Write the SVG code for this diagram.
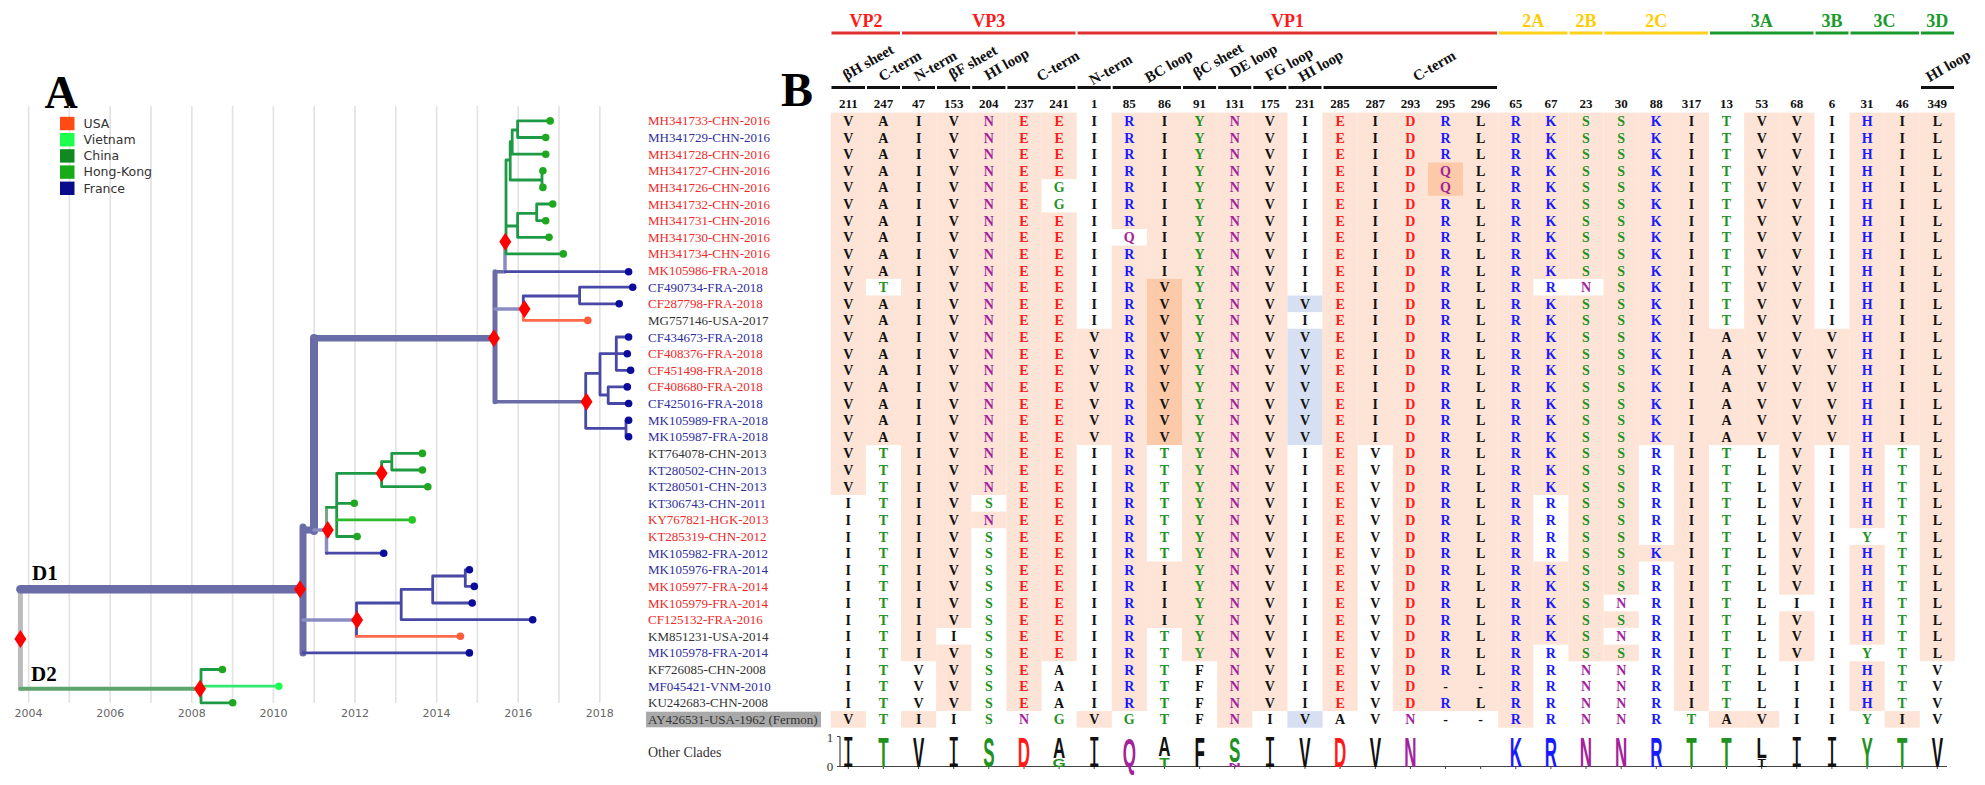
<svg xmlns="http://www.w3.org/2000/svg" width="1985" height="785" viewBox="0 0 1985 785">
<style>
.k{fill:#111}.g{fill:#1f921f}.r{fill:#ff1a1a}.b{fill:#1a1aff}.p{fill:#a3229b}
.res{font-family:'Liberation Serif',serif;font-weight:bold;font-size:14px;text-anchor:middle}
.lab{font-family:'Liberation Serif',serif;font-size:13px}
.lr{fill:#f02828}.lb{fill:#2e2e9e}.lk{fill:#333}
.s{fill:#fde4d6}.o{fill:#fccaa8}.bl{fill:#d6e0f2}
.num{font-family:'Liberation Serif',serif;font-weight:bold;font-size:13px;text-anchor:middle;fill:#111}
.sub{font-family:'Liberation Serif',serif;font-weight:bold;font-size:15px;text-anchor:middle;fill:#111}
.prot{font-family:'Liberation Serif',serif;font-weight:bold;font-size:18px;text-anchor:middle}
.lg{font-family:'Liberation Sans',Arial,sans-serif;font-weight:bold;font-size:20px;text-anchor:middle}
.lm{font-family:'DejaVu Sans Mono',monospace;font-size:20px;text-anchor:middle;fill:#111}
.yr{font-family:'DejaVu Sans',sans-serif;font-size:11px;fill:#666;text-anchor:middle}
.leg{font-family:'DejaVu Sans',sans-serif;font-size:12.5px;fill:#333}
.big{font-family:'Liberation Serif',serif;font-weight:bold;fill:#000}
.br{fill:none;stroke-linecap:round;stroke-linejoin:round}
.dF{fill:#0c0c9c}.dG{fill:#1fa81f}.dH{fill:#27c927}.dV{fill:#1dff50}.dU{fill:#ff5a3c}
</style>
<defs>
<path id="dia" d="M0 -9L6 0L0 9L-6 0Z" fill="#ff0000"/>
</defs>
<rect width="1985" height="785" fill="#fff"/>

<g id="panelA">
<text class="big" x="61" y="108" font-size="46" text-anchor="middle">A</text>
<g id="grid">
<path d="M28.6 106V703M69.4 106V703M110.2 106V703M151 106V703M191.8 106V703M232.6 106V703M273.4 106V703M314.2 106V703M355 106V703M395.8 106V703M436.6 106V703M477.4 106V703M518.2 106V703M559 106V703M599.8 106V703" stroke="#e2e2e2" stroke-width="1.6" fill="none"/>
<text class="yr" x="28.6" y="717">2004</text><text class="yr" x="110.2" y="717">2006</text><text class="yr" x="191.8" y="717">2008</text><text class="yr" x="273.4" y="717">2010</text><text class="yr" x="355" y="717">2012</text><text class="yr" x="436.6" y="717">2014</text><text class="yr" x="518.2" y="717">2016</text><text class="yr" x="599.8" y="717">2018</text>
</g>
<g id="legend">
<rect x="60" y="116.8" width="14.5" height="13.4" fill="#ff4a14"/><text class="leg" x="83.5" y="127.8">USA</text>
<rect x="60" y="133" width="14.5" height="13.4" fill="#1dff4c"/><text class="leg" x="83.5" y="144">Vietnam</text>
<rect x="60" y="149.2" width="14.5" height="13.4" fill="#0f8a1f"/><text class="leg" x="83.5" y="160.2">China</text>
<rect x="60" y="165.4" width="14.5" height="13.4" fill="#17ab17"/><text class="leg" x="83.5" y="176.4">Hong-Kong</text>
<rect x="60" y="181.6" width="14.5" height="13.4" fill="#0a0a8c"/><text class="leg" x="83.5" y="192.6">France</text>
</g>
<g id="connectors">
<path class="br" d="M20.4 589.3V688.7" stroke="#bcbcbc" stroke-width="5"/>
<path class="br" d="M20.4 688.7H200" stroke="#5fa46f" stroke-width="4"/>
<path class="br" d="M20.4 589.3H300" stroke="#6a6ca8" stroke-width="8.5"/>
<path class="br" d="M303 527V653M303 530H314" stroke="#6a6ca8" stroke-width="7"/>
<path class="br" d="M314 338V531" stroke="#6a6ca8" stroke-width="8"/>
<path class="br" d="M314 338.3H494" stroke="#6a6ca8" stroke-width="6.5"/>
<path class="br" d="M495 271.7V401.7" stroke="#6a6ca8" stroke-width="5"/>
<path class="br" d="M495 271.7H505M495 401.7H586" stroke="#6a6ca8" stroke-width="3.5"/>
<path class="br" d="M495 309H524M505 241.7V271.7M314 530H327M326.5 530V553.2M303 620H357" stroke="#8b8dc2" stroke-width="3.5"/>
<path class="br" d="M326.5 507.3V530" stroke="#76a886" stroke-width="3"/>
<path class="br" d="M506 160V253.9M506 160H510.2M510.2 141.7V180M510.2 141.7H512.2M512.2 130V154.2M512.2 130H517.6M517.6 120.9V137.5M517.6 120.9H550.2M517.6 137.5H545.7M512.2 154.2H545.7M510.2 180H542M542 170.8V187.4M506 226H517.6M517.6 213.3V237.3M517.6 213.3H536.7M536.7 204V220.7M536.7 204H552.7M536.7 220.7H545.7M517.6 237.3H549M506 253.9H563.3M326.5 507.3H336.7M336.7 473.3V536.5M336.7 473.3H381.6M381.6 461.7V486.7M381.6 461.7H391.8M391.8 453.4V470M391.8 453.4H422.4M391.8 470H422.4M381.6 486.7H427.8M336.7 503.3H354.3M336.7 536.5H357.1M201 669.5V702.8M201 669.5H222.4M201 702.8H232.7" stroke="#1e9a46" stroke-width="2.8"/>
<path class="br" d="M336.7 519.9H412.2" stroke="#2dbb2d" stroke-width="2.8"/>
<path class="br" d="M204 686.2H278.8" stroke="#33e870" stroke-width="2.8"/>
<path class="br" d="M505 271.7H628.6M523.3 296V309M523.3 296H579.6M579.6 287.2V303.8M579.6 287.2H632.7M579.6 303.8H619.2M585.7 373.3V428.3M585.7 373.3H600M600 353.7V395M600 353.7H616.3M616.3 337V370.3M616.3 337H628.6M616.3 353.7H627.3M616.3 370.3H630.6M600 395H608.2M608.2 386.9V403.5M608.2 386.9H627.3M608.2 403.5H628.6M585.7 428.3H626M626 420.2V436.8M626 420.2H628.6M626 436.8H628.6M326.5 553.2H383.7M356.5 603V636.3M356.5 603H401.2M401.2 589.3V619.7M401.2 589.3H432.7M432.7 576V603M432.7 576H465.3M465.3 569.8V586.4M465.3 569.8H469.4M465.3 586.4H474.3M432.7 603H472.2M401.2 619.7H532.7M303 652.9H469.4" stroke="#4848a6" stroke-width="2.8"/>
<path class="br" d="M523.3 309V320.4M523.3 320.4H587.8M356.5 636.3H460.4" stroke="#ff6a4a" stroke-width="2.8"/>
</g>
<g id="tips">
<g class="dF"><circle cx="628.6" cy="271.7" r="3.8"/><circle cx="632.7" cy="287.2" r="3.8"/><circle cx="619.2" cy="303.8" r="3.8"/><circle cx="628.6" cy="337" r="3.8"/><circle cx="627.3" cy="353.7" r="3.8"/><circle cx="630.6" cy="370.3" r="3.8"/><circle cx="627.3" cy="386.9" r="3.8"/><circle cx="628.6" cy="403.5" r="3.8"/><circle cx="628.6" cy="420.2" r="3.8"/><circle cx="628.6" cy="436.8" r="3.8"/><circle cx="383.7" cy="553.2" r="3.8"/><circle cx="469.4" cy="569.8" r="3.8"/><circle cx="474.3" cy="586.4" r="3.8"/><circle cx="472.2" cy="603" r="3.8"/><circle cx="532.7" cy="619.7" r="3.8"/><circle cx="469.4" cy="652.9" r="3.8"/></g>
<g class="dG"><circle cx="550.2" cy="120.9" r="3.8"/><circle cx="545.7" cy="137.5" r="3.8"/><circle cx="545.7" cy="154.2" r="3.8"/><circle cx="542.9" cy="170.8" r="3.8"/><circle cx="542.9" cy="187.4" r="3.8"/><circle cx="552.7" cy="204" r="3.8"/><circle cx="545.7" cy="220.7" r="3.8"/><circle cx="549" cy="237.3" r="3.8"/><circle cx="563.3" cy="253.9" r="3.8"/><circle cx="422.4" cy="453.4" r="3.8"/><circle cx="422.4" cy="470" r="3.8"/><circle cx="427.8" cy="486.7" r="3.8"/><circle cx="354.3" cy="503.3" r="3.8"/><circle cx="357.1" cy="536.5" r="3.8"/><circle cx="222.4" cy="669.5" r="3.8"/><circle cx="232.7" cy="702.8" r="3.8"/></g>
<circle class="dH" cx="412.2" cy="519.9" r="3.8"/>
<circle class="dV" cx="278.8" cy="686.2" r="3.8"/>
<circle class="dU" cx="587.8" cy="320.4" r="3.8"/><circle class="dU" cx="460.4" cy="636.3" r="3.8"/>
</g>
<g id="nodes">
<use href="#dia" x="505.3" y="241.7"/><use href="#dia" x="524.5" y="309"/><use href="#dia" x="493.9" y="338.3"/><use href="#dia" x="586.5" y="401.7"/><use href="#dia" x="381.6" y="473.3"/><use href="#dia" x="327.8" y="530"/><use href="#dia" x="300" y="589.3"/><use href="#dia" x="357.1" y="620"/><use href="#dia" x="20.4" y="639"/><use href="#dia" x="200" y="688.7"/>
</g>
<text class="big" x="32" y="580" font-size="21">D1</text>
<text class="big" x="31" y="681" font-size="21">D2</text>
</g>

<g id="panelB">
<text class="big" x="797" y="106" font-size="48" text-anchor="middle">B</text>
<g id="header">
<text class="prot r" x="865.9" y="26.5">VP2</text>
<text class="prot r" x="988.8" y="26.5">VP3</text>
<text class="prot r" x="1287.4" y="26.5">VP1</text>
<text class="prot" fill="#ffcc00" x="1533.3" y="26.5">2A</text>
<text class="prot" fill="#ffcc00" x="1586" y="26.5">2B</text>
<text class="prot" fill="#ffcc00" x="1656.3" y="26.5">2C</text>
<text class="prot" fill="#1a9a2a" x="1761.7" y="26.5">3A</text>
<text class="prot" fill="#1a9a2a" x="1831.9" y="26.5">3B</text>
<text class="prot" fill="#1a9a2a" x="1884.6" y="26.5">3C</text>
<text class="prot" fill="#1a9a2a" x="1937.3" y="26.5">3D</text>
<path d="M831.5 33H900M902 33H1075.5M1077.5 33H1497" stroke="#e03030" stroke-width="3" fill="none"/>
<path d="M1499 33H1567.5M1569.5 33H1602.5M1604.5 33H1708" stroke="#ffd21a" stroke-width="3" fill="none"/>
<path d="M1710 33H1813.5M1815.5 33H1848.5M1850.5 33H1919M1921 33H1954" stroke="#1a9a2a" stroke-width="3" fill="none"/>
<path d="M831.5 87.5H865M867 87.5H900M902 87.5H935M937 87.5H970.2M972.2 87.5H1005.4M1007.4 87.5H1075.5M1077.5 87.5H1110.7M1112.7 87.5H1181M1183 87.5H1216.1M1218.1 87.5H1251.3M1253.3 87.5H1286.4M1288.4 87.5H1321.5M1323.5 87.5H1497M1921 87.5H1954" stroke="#111" stroke-width="3" fill="none"/>
<g class="sub">
<text transform="translate(868.1 61.9) rotate(-30)" dy="0.35em">βH sheet</text>
<text transform="translate(899.7 65.5) rotate(-30)" dy="0.35em">C-term</text>
<text transform="translate(935.3 65.5) rotate(-30)" dy="0.35em">N-term</text>
<text transform="translate(972.8 61.9) rotate(-30)" dy="0.35em">βF sheet</text>
<text transform="translate(1006.4 63.7) rotate(-30)" dy="0.35em">HI loop</text>
<text transform="translate(1057.8 65.5) rotate(-30)" dy="0.35em">C-term</text>
<text transform="translate(1110.4 69.2) rotate(-30)" dy="0.35em">N-term</text>
<text transform="translate(1168.5 65.5) rotate(-30)" dy="0.35em">BC loop</text>
<text transform="translate(1217.9 60.1) rotate(-30)" dy="0.35em">βC sheet</text>
<text transform="translate(1253.4 60.1) rotate(-30)" dy="0.35em">DE loop</text>
<text transform="translate(1289 63.7) rotate(-30)" dy="0.35em">FG loop</text>
<text transform="translate(1320.6 65.5) rotate(-30)" dy="0.35em">HI loop</text>
<text transform="translate(1434 65.5) rotate(-30)" dy="0.35em">C-term</text>
<text transform="translate(1948 65.5) rotate(-30)" dy="0.35em">HI loop</text>
</g>
<text class="num" y="107.5"><tspan x="848.3">211</tspan><tspan x="883.4">247</tspan><tspan x="918.6">47</tspan><tspan x="953.7">153</tspan><tspan x="988.8">204</tspan><tspan x="1024">237</tspan><tspan x="1059.1">241</tspan><tspan x="1094.2">1</tspan><tspan x="1129.3">85</tspan><tspan x="1164.5">86</tspan><tspan x="1199.6">91</tspan><tspan x="1234.7">131</tspan><tspan x="1269.9">175</tspan><tspan x="1305">231</tspan><tspan x="1340.1">285</tspan><tspan x="1375.3">287</tspan><tspan x="1410.4">293</tspan><tspan x="1445.5">295</tspan><tspan x="1480.6">296</tspan><tspan x="1515.8">65</tspan><tspan x="1550.9">67</tspan><tspan x="1586">23</tspan><tspan x="1621.2">30</tspan><tspan x="1656.3">88</tspan><tspan x="1691.4">317</tspan><tspan x="1726.5">13</tspan><tspan x="1761.7">53</tspan><tspan x="1796.8">68</tspan><tspan x="1831.9">6</tspan><tspan x="1867.1">31</tspan><tspan x="1902.2">46</tspan><tspan x="1937.3">349</tspan></text>
</g>

<g id="cells">
<rect class="s" x="830.7" y="112.6" width="35.2" height="382.4"/><rect class="s" x="830.7" y="711.1" width="35.2" height="16.6"/>
<rect class="s" x="865.8" y="112.6" width="35.2" height="166.3"/><rect class="s" x="865.8" y="295.5" width="35.2" height="149.6"/>
<rect class="s" x="901" y="112.6" width="35.2" height="548.6"/><rect class="s" x="901" y="711.1" width="35.2" height="16.6"/>
<rect class="s" x="936.1" y="112.6" width="35.2" height="515.4"/><rect class="s" x="936.1" y="644.6" width="35.2" height="66.5"/>
<rect class="s" x="971.2" y="112.6" width="35.2" height="382.4"/><rect class="s" x="971.2" y="511.6" width="35.2" height="16.6"/>
<rect class="s" x="1006.4" y="112.6" width="35.2" height="598.5"/>
<rect class="s" x="1041.5" y="112.6" width="35.2" height="66.5"/><rect class="s" x="1041.5" y="212.3" width="35.2" height="448.9"/>
<rect class="s" x="1076.6" y="328.7" width="35.2" height="116.4"/><rect class="s" x="1076.6" y="711.1" width="35.2" height="16.6"/>
<rect class="s" x="1111.7" y="112.6" width="35.2" height="116.4"/><rect class="s" x="1111.7" y="245.6" width="35.2" height="465.5"/>
<rect class="s" x="1146.9" y="112.6" width="35.2" height="166.3"/><rect class="o" x="1146.9" y="278.8" width="35.2" height="166.3"/><rect class="s" x="1146.9" y="561.5" width="35.2" height="66.5"/>
<rect class="s" x="1182" y="112.6" width="35.2" height="548.6"/>
<rect class="s" x="1217.1" y="112.6" width="35.2" height="615.1"/>
<rect class="s" x="1252.3" y="112.6" width="35.2" height="598.5"/>
<rect class="bl" x="1287.4" y="295.5" width="35.2" height="16.6"/><rect class="bl" x="1287.4" y="328.7" width="35.2" height="116.4"/><rect class="bl" x="1287.4" y="711.1" width="35.2" height="16.6"/>
<rect class="s" x="1322.5" y="112.6" width="35.2" height="598.5"/>
<rect class="s" x="1357.7" y="112.6" width="35.2" height="332.5"/>
<rect class="s" x="1392.8" y="112.6" width="35.2" height="598.5"/>
<rect class="s" x="1427.9" y="112.6" width="35.2" height="598.5"/><rect class="o" x="1427.9" y="162.5" width="35.2" height="33.3"/>
<rect class="s" x="1463" y="112.6" width="35.2" height="598.5"/>
<rect class="s" x="1498.2" y="112.6" width="35.2" height="615.1"/>
<rect class="s" x="1533.3" y="112.6" width="35.2" height="166.3"/><rect class="s" x="1533.3" y="295.5" width="35.2" height="199.5"/><rect class="s" x="1533.3" y="561.5" width="35.2" height="83.1"/>
<rect class="s" x="1568.4" y="112.6" width="35.2" height="166.3"/><rect class="s" x="1568.4" y="295.5" width="35.2" height="365.8"/>
<rect class="s" x="1603.6" y="112.6" width="35.2" height="482.1"/><rect class="s" x="1603.6" y="611.3" width="35.2" height="16.6"/><rect class="s" x="1603.6" y="644.6" width="35.2" height="16.6"/>
<rect class="s" x="1638.7" y="112.6" width="35.2" height="332.5"/><rect class="s" x="1638.7" y="544.9" width="35.2" height="16.6"/>
<rect class="s" x="1673.8" y="112.6" width="35.2" height="598.5"/>
<rect class="s" x="1709" y="328.7" width="35.2" height="116.4"/><rect class="s" x="1709" y="711.1" width="35.2" height="16.6"/>
<rect class="s" x="1744.1" y="112.6" width="35.2" height="332.5"/><rect class="s" x="1744.1" y="711.1" width="35.2" height="16.6"/>
<rect class="s" x="1779.2" y="112.6" width="35.2" height="482.1"/><rect class="s" x="1779.2" y="611.3" width="35.2" height="49.9"/>
<rect class="s" x="1814.3" y="328.7" width="35.2" height="116.4"/>
<rect class="s" x="1849.5" y="112.6" width="35.2" height="415.6"/><rect class="s" x="1849.5" y="544.9" width="35.2" height="99.8"/><rect class="s" x="1849.5" y="661.2" width="35.2" height="49.9"/>
<rect class="s" x="1884.6" y="112.6" width="35.2" height="332.5"/><rect class="s" x="1884.6" y="711.1" width="35.2" height="16.6"/>
<rect class="s" x="1919.7" y="112.6" width="35.2" height="548.6"/>
</g>

<g id="rowlabels" class="lab">
<text class="lr" x="648" y="125.4">MH341733-CHN-2016</text>
<text class="lb" x="648" y="142">MH341729-CHN-2016</text>
<text class="lr" x="648" y="158.7">MH341728-CHN-2016</text>
<text class="lr" x="648" y="175.3">MH341727-CHN-2016</text>
<text class="lr" x="648" y="191.9">MH341726-CHN-2016</text>
<text class="lr" x="648" y="208.5">MH341732-CHN-2016</text>
<text class="lr" x="648" y="225.2">MH341731-CHN-2016</text>
<text class="lr" x="648" y="241.8">MH341730-CHN-2016</text>
<text class="lr" x="648" y="258.4">MH341734-CHN-2016</text>
<text class="lr" x="648" y="275">MK105986-FRA-2018</text>
<text class="lb" x="648" y="291.7">CF490734-FRA-2018</text>
<text class="lr" x="648" y="308.3">CF287798-FRA-2018</text>
<text class="lk" x="648" y="324.9">MG757146-USA-2017</text>
<text class="lb" x="648" y="341.5">CF434673-FRA-2018</text>
<text class="lr" x="648" y="358.2">CF408376-FRA-2018</text>
<text class="lr" x="648" y="374.8">CF451498-FRA-2018</text>
<text class="lr" x="648" y="391.4">CF408680-FRA-2018</text>
<text class="lb" x="648" y="408">CF425016-FRA-2018</text>
<text class="lb" x="648" y="424.7">MK105989-FRA-2018</text>
<text class="lb" x="648" y="441.3">MK105987-FRA-2018</text>
<text class="lk" x="648" y="457.9">KT764078-CHN-2013</text>
<text class="lb" x="648" y="474.5">KT280502-CHN-2013</text>
<text class="lb" x="648" y="491.2">KT280501-CHN-2013</text>
<text class="lb" x="648" y="507.8">KT306743-CHN-2011</text>
<text class="lr" x="648" y="524.4">KY767821-HGK-2013</text>
<text class="lr" x="648" y="541">KT285319-CHN-2012</text>
<text class="lb" x="648" y="557.7">MK105982-FRA-2012</text>
<text class="lb" x="648" y="574.3">MK105976-FRA-2014</text>
<text class="lr" x="648" y="590.9">MK105977-FRA-2014</text>
<text class="lr" x="648" y="607.5">MK105979-FRA-2014</text>
<text class="lr" x="648" y="624.2">CF125132-FRA-2016</text>
<text class="lk" x="648" y="640.8">KM851231-USA-2014</text>
<text class="lb" x="648" y="657.4">MK105978-FRA-2014</text>
<text class="lk" x="648" y="674">KF726085-CHN-2008</text>
<text class="lb" x="648" y="690.7">MF045421-VNM-2010</text>
<text class="lk" x="648" y="707.3">KU242683-CHN-2008</text>
<rect x="646" y="711.7" width="175" height="15.6" fill="#a9a9a9"/>
<text class="lk" x="648" y="723.9">AY426531-USA-1962 (Fermon)</text>
<text class="lk" x="648" y="757" font-size="14">Other Clades</text>
</g>

<g id="residues" class="res">
<text transform="translate(848.3 0)" x="0 0 0 0 0 0 0 0 0 0 0 0 0 0 0 0 0 0 0 0 0 0 0 0 0 0 0 0 0 0 0 0 0 0 0 0 0" y="125.9 142.5 159.2 175.8 192.4 209 225.7 242.3 258.9 275.5 292.2 308.8 325.4 342 358.7 375.3 391.9 408.5 425.2 441.8 458.4 475 491.7 508.3 524.9 541.5 558.2 574.8 591.4 608 624.7 641.3 657.9 674.5 691.2 707.8 724.4"><tspan class="k">VVVVVVVVVVVVVVVVVVVVVVVIIIIIIIIIIIIIV</tspan></text>
<text transform="translate(883.4 0)" x="0 0 0 0 0 0 0 0 0 0 0 0 0 0 0 0 0 0 0 0 0 0 0 0 0 0 0 0 0 0 0 0 0 0 0 0 0" y="125.9 142.5 159.2 175.8 192.4 209 225.7 242.3 258.9 275.5 292.2 308.8 325.4 342 358.7 375.3 391.9 408.5 425.2 441.8 458.4 475 491.7 508.3 524.9 541.5 558.2 574.8 591.4 608 624.7 641.3 657.9 674.5 691.2 707.8 724.4"><tspan class="k">AAAAAAAAAA</tspan><tspan class="g">T</tspan><tspan class="k">AAAAAAAAA</tspan><tspan class="g">TTTTTTTTTTTTTTTTT</tspan></text>
<text transform="translate(918.6 0)" x="0 0 0 0 0 0 0 0 0 0 0 0 0 0 0 0 0 0 0 0 0 0 0 0 0 0 0 0 0 0 0 0 0 0 0 0 0" y="125.9 142.5 159.2 175.8 192.4 209 225.7 242.3 258.9 275.5 292.2 308.8 325.4 342 358.7 375.3 391.9 408.5 425.2 441.8 458.4 475 491.7 508.3 524.9 541.5 558.2 574.8 591.4 608 624.7 641.3 657.9 674.5 691.2 707.8 724.4"><tspan class="k">IIIIIIIIIIIIIIIIIIIIIIIIIIIIIIIIIVVVI</tspan></text>
<text transform="translate(953.7 0)" x="0 0 0 0 0 0 0 0 0 0 0 0 0 0 0 0 0 0 0 0 0 0 0 0 0 0 0 0 0 0 0 0 0 0 0 0 0" y="125.9 142.5 159.2 175.8 192.4 209 225.7 242.3 258.9 275.5 292.2 308.8 325.4 342 358.7 375.3 391.9 408.5 425.2 441.8 458.4 475 491.7 508.3 524.9 541.5 558.2 574.8 591.4 608 624.7 641.3 657.9 674.5 691.2 707.8 724.4"><tspan class="k">VVVVVVVVVVVVVVVVVVVVVVVVVVVVVVVIVVVVI</tspan></text>
<text transform="translate(988.8 0)" x="0 0 0 0 0 0 0 0 0 0 0 0 0 0 0 0 0 0 0 0 0 0 0 0 0 0 0 0 0 0 0 0 0 0 0 0 0" y="125.9 142.5 159.2 175.8 192.4 209 225.7 242.3 258.9 275.5 292.2 308.8 325.4 342 358.7 375.3 391.9 408.5 425.2 441.8 458.4 475 491.7 508.3 524.9 541.5 558.2 574.8 591.4 608 624.7 641.3 657.9 674.5 691.2 707.8 724.4"><tspan class="p">NNNNNNNNNNNNNNNNNNNNNNN</tspan><tspan class="g">S</tspan><tspan class="p">N</tspan><tspan class="g">SSSSSSSSSSSS</tspan></text>
<text transform="translate(1024 0)" x="0 0 0 0 0 0 0 0 0 0 0 0 0 0 0 0 0 0 0 0 0 0 0 0 0 0 0 0 0 0 0 0 0 0 0 0 0" y="125.9 142.5 159.2 175.8 192.4 209 225.7 242.3 258.9 275.5 292.2 308.8 325.4 342 358.7 375.3 391.9 408.5 425.2 441.8 458.4 475 491.7 508.3 524.9 541.5 558.2 574.8 591.4 608 624.7 641.3 657.9 674.5 691.2 707.8 724.4"><tspan class="r">EEEEEEEEEEEEEEEEEEEEEEEEEEEEEEEEEEEE</tspan><tspan class="p">N</tspan></text>
<text transform="translate(1059.1 0)" x="0 0 0 0 0 0 0 0 0 0 0 0 0 0 0 0 0 0 0 0 0 0 0 0 0 0 0 0 0 0 0 0 0 0 0 0 0" y="125.9 142.5 159.2 175.8 192.4 209 225.7 242.3 258.9 275.5 292.2 308.8 325.4 342 358.7 375.3 391.9 408.5 425.2 441.8 458.4 475 491.7 508.3 524.9 541.5 558.2 574.8 591.4 608 624.7 641.3 657.9 674.5 691.2 707.8 724.4"><tspan class="r">EEEE</tspan><tspan class="g">GG</tspan><tspan class="r">EEEEEEEEEEEEEEEEEEEEEEEEEEE</tspan><tspan class="k">AAA</tspan><tspan class="g">G</tspan></text>
<text transform="translate(1094.2 0)" x="0 0 0 0 0 0 0 0 0 0 0 0 0 0 0 0 0 0 0 0 0 0 0 0 0 0 0 0 0 0 0 0 0 0 0 0 0" y="125.9 142.5 159.2 175.8 192.4 209 225.7 242.3 258.9 275.5 292.2 308.8 325.4 342 358.7 375.3 391.9 408.5 425.2 441.8 458.4 475 491.7 508.3 524.9 541.5 558.2 574.8 591.4 608 624.7 641.3 657.9 674.5 691.2 707.8 724.4"><tspan class="k">IIIIIIIIIIIIIVVVVVVVIIIIIIIIIIIIIIIIV</tspan></text>
<text transform="translate(1129.3 0)" x="0 0 0 0 0 0 0 0 0 0 0 0 0 0 0 0 0 0 0 0 0 0 0 0 0 0 0 0 0 0 0 0 0 0 0 0 0" y="125.9 142.5 159.2 175.8 192.4 209 225.7 242.3 258.9 275.5 292.2 308.8 325.4 342 358.7 375.3 391.9 408.5 425.2 441.8 458.4 475 491.7 508.3 524.9 541.5 558.2 574.8 591.4 608 624.7 641.3 657.9 674.5 691.2 707.8 724.4"><tspan class="b">RRRRRRR</tspan><tspan class="p">Q</tspan><tspan class="b">RRRRRRRRRRRRRRRRRRRRRRRRRRRR</tspan><tspan class="g">G</tspan></text>
<text transform="translate(1164.5 0)" x="0 0 0 0 0 0 0 0 0 0 0 0 0 0 0 0 0 0 0 0 0 0 0 0 0 0 0 0 0 0 0 0 0 0 0 0 0" y="125.9 142.5 159.2 175.8 192.4 209 225.7 242.3 258.9 275.5 292.2 308.8 325.4 342 358.7 375.3 391.9 408.5 425.2 441.8 458.4 475 491.7 508.3 524.9 541.5 558.2 574.8 591.4 608 624.7 641.3 657.9 674.5 691.2 707.8 724.4"><tspan class="k">IIIIIIIIIIVVVVVVVVVV</tspan><tspan class="g">TTTTTTT</tspan><tspan class="k">IIII</tspan><tspan class="g">TTTTTT</tspan></text>
<text transform="translate(1199.6 0)" x="0 0 0 0 0 0 0 0 0 0 0 0 0 0 0 0 0 0 0 0 0 0 0 0 0 0 0 0 0 0 0 0 0 0 0 0 0" y="125.9 142.5 159.2 175.8 192.4 209 225.7 242.3 258.9 275.5 292.2 308.8 325.4 342 358.7 375.3 391.9 408.5 425.2 441.8 458.4 475 491.7 508.3 524.9 541.5 558.2 574.8 591.4 608 624.7 641.3 657.9 674.5 691.2 707.8 724.4"><tspan class="g">YYYYYYYYYYYYYYYYYYYYYYYYYYYYYYYYY</tspan><tspan class="k">FFFF</tspan></text>
<text transform="translate(1234.7 0)" x="0 0 0 0 0 0 0 0 0 0 0 0 0 0 0 0 0 0 0 0 0 0 0 0 0 0 0 0 0 0 0 0 0 0 0 0 0" y="125.9 142.5 159.2 175.8 192.4 209 225.7 242.3 258.9 275.5 292.2 308.8 325.4 342 358.7 375.3 391.9 408.5 425.2 441.8 458.4 475 491.7 508.3 524.9 541.5 558.2 574.8 591.4 608 624.7 641.3 657.9 674.5 691.2 707.8 724.4"><tspan class="p">NNNNNNNNNNNNNNNNNNNNNNNNNNNNNNNNNNNNN</tspan></text>
<text transform="translate(1269.9 0)" x="0 0 0 0 0 0 0 0 0 0 0 0 0 0 0 0 0 0 0 0 0 0 0 0 0 0 0 0 0 0 0 0 0 0 0 0 0" y="125.9 142.5 159.2 175.8 192.4 209 225.7 242.3 258.9 275.5 292.2 308.8 325.4 342 358.7 375.3 391.9 408.5 425.2 441.8 458.4 475 491.7 508.3 524.9 541.5 558.2 574.8 591.4 608 624.7 641.3 657.9 674.5 691.2 707.8 724.4"><tspan class="k">VVVVVVVVVVVVVVVVVVVVVVVVVVVVVVVVVVVVI</tspan></text>
<text transform="translate(1305 0)" x="0 0 0 0 0 0 0 0 0 0 0 0 0 0 0 0 0 0 0 0 0 0 0 0 0 0 0 0 0 0 0 0 0 0 0 0 0" y="125.9 142.5 159.2 175.8 192.4 209 225.7 242.3 258.9 275.5 292.2 308.8 325.4 342 358.7 375.3 391.9 408.5 425.2 441.8 458.4 475 491.7 508.3 524.9 541.5 558.2 574.8 591.4 608 624.7 641.3 657.9 674.5 691.2 707.8 724.4"><tspan class="k">IIIIIIIIIIIVIVVVVVVVIIIIIIIIIIIIIIIIV</tspan></text>
<text transform="translate(1340.1 0)" x="0 0 0 0 0 0 0 0 0 0 0 0 0 0 0 0 0 0 0 0 0 0 0 0 0 0 0 0 0 0 0 0 0 0 0 0 0" y="125.9 142.5 159.2 175.8 192.4 209 225.7 242.3 258.9 275.5 292.2 308.8 325.4 342 358.7 375.3 391.9 408.5 425.2 441.8 458.4 475 491.7 508.3 524.9 541.5 558.2 574.8 591.4 608 624.7 641.3 657.9 674.5 691.2 707.8 724.4"><tspan class="r">EEEEEEEEEEEEEEEEEEEEEEEEEEEEEEEEEEEE</tspan><tspan class="k">A</tspan></text>
<text transform="translate(1375.3 0)" x="0 0 0 0 0 0 0 0 0 0 0 0 0 0 0 0 0 0 0 0 0 0 0 0 0 0 0 0 0 0 0 0 0 0 0 0 0" y="125.9 142.5 159.2 175.8 192.4 209 225.7 242.3 258.9 275.5 292.2 308.8 325.4 342 358.7 375.3 391.9 408.5 425.2 441.8 458.4 475 491.7 508.3 524.9 541.5 558.2 574.8 591.4 608 624.7 641.3 657.9 674.5 691.2 707.8 724.4"><tspan class="k">IIIIIIIIIIIIIIIIIIIIVVVVVVVVVVVVVVVVV</tspan></text>
<text transform="translate(1410.4 0)" x="0 0 0 0 0 0 0 0 0 0 0 0 0 0 0 0 0 0 0 0 0 0 0 0 0 0 0 0 0 0 0 0 0 0 0 0 0" y="125.9 142.5 159.2 175.8 192.4 209 225.7 242.3 258.9 275.5 292.2 308.8 325.4 342 358.7 375.3 391.9 408.5 425.2 441.8 458.4 475 491.7 508.3 524.9 541.5 558.2 574.8 591.4 608 624.7 641.3 657.9 674.5 691.2 707.8 724.4"><tspan class="r">DDDDDDDDDDDDDDDDDDDDDDDDDDDDDDDDDDDD</tspan><tspan class="p">N</tspan></text>
<text transform="translate(1445.5 0)" x="0 0 0 0 0 0 0 0 0 0 0 0 0 0 0 0 0 0 0 0 0 0 0 0 0 0 0 0 0 0 0 0 0 0 0 0 0" y="125.9 142.5 159.2 175.8 192.4 209 225.7 242.3 258.9 275.5 292.2 308.8 325.4 342 358.7 375.3 391.9 408.5 425.2 441.8 458.4 475 491.7 508.3 524.9 541.5 558.2 574.8 591.4 608 624.7 641.3 657.9 674.5 691.2 707.8 724.4"><tspan class="b">RRR</tspan><tspan class="p">QQ</tspan><tspan class="b">RRRRRRRRRRRRRRRRRRRRRRRRRRRRR</tspan><tspan class="k">-</tspan><tspan class="b">R</tspan><tspan class="k">-</tspan></text>
<text transform="translate(1480.6 0)" x="0 0 0 0 0 0 0 0 0 0 0 0 0 0 0 0 0 0 0 0 0 0 0 0 0 0 0 0 0 0 0 0 0 0 0 0 0" y="125.9 142.5 159.2 175.8 192.4 209 225.7 242.3 258.9 275.5 292.2 308.8 325.4 342 358.7 375.3 391.9 408.5 425.2 441.8 458.4 475 491.7 508.3 524.9 541.5 558.2 574.8 591.4 608 624.7 641.3 657.9 674.5 691.2 707.8 724.4"><tspan class="k">LLLLLLLLLLLLLLLLLLLLLLLLLLLLLLLLLL-L-</tspan></text>
<text transform="translate(1515.8 0)" x="0 0 0 0 0 0 0 0 0 0 0 0 0 0 0 0 0 0 0 0 0 0 0 0 0 0 0 0 0 0 0 0 0 0 0 0 0" y="125.9 142.5 159.2 175.8 192.4 209 225.7 242.3 258.9 275.5 292.2 308.8 325.4 342 358.7 375.3 391.9 408.5 425.2 441.8 458.4 475 491.7 508.3 524.9 541.5 558.2 574.8 591.4 608 624.7 641.3 657.9 674.5 691.2 707.8 724.4"><tspan class="b">RRRRRRRRRRRRRRRRRRRRRRRRRRRRRRRRRRRRR</tspan></text>
<text transform="translate(1550.9 0)" x="0 0 0 0 0 0 0 0 0 0 0 0 0 0 0 0 0 0 0 0 0 0 0 0 0 0 0 0 0 0 0 0 0 0 0 0 0" y="125.9 142.5 159.2 175.8 192.4 209 225.7 242.3 258.9 275.5 292.2 308.8 325.4 342 358.7 375.3 391.9 408.5 425.2 441.8 458.4 475 491.7 508.3 524.9 541.5 558.2 574.8 591.4 608 624.7 641.3 657.9 674.5 691.2 707.8 724.4"><tspan class="b">KKKKKKKKKKRKKKKKKKKKKKKRRRRKKKKKRRRRR</tspan></text>
<text transform="translate(1586 0)" x="0 0 0 0 0 0 0 0 0 0 0 0 0 0 0 0 0 0 0 0 0 0 0 0 0 0 0 0 0 0 0 0 0 0 0 0 0" y="125.9 142.5 159.2 175.8 192.4 209 225.7 242.3 258.9 275.5 292.2 308.8 325.4 342 358.7 375.3 391.9 408.5 425.2 441.8 458.4 475 491.7 508.3 524.9 541.5 558.2 574.8 591.4 608 624.7 641.3 657.9 674.5 691.2 707.8 724.4"><tspan class="g">SSSSSSSSSS</tspan><tspan class="p">N</tspan><tspan class="g">SSSSSSSSSSSSSSSSSSSSSS</tspan><tspan class="p">NNNN</tspan></text>
<text transform="translate(1621.2 0)" x="0 0 0 0 0 0 0 0 0 0 0 0 0 0 0 0 0 0 0 0 0 0 0 0 0 0 0 0 0 0 0 0 0 0 0 0 0" y="125.9 142.5 159.2 175.8 192.4 209 225.7 242.3 258.9 275.5 292.2 308.8 325.4 342 358.7 375.3 391.9 408.5 425.2 441.8 458.4 475 491.7 508.3 524.9 541.5 558.2 574.8 591.4 608 624.7 641.3 657.9 674.5 691.2 707.8 724.4"><tspan class="g">SSSSSSSSSSSSSSSSSSSSSSSSSSSSS</tspan><tspan class="p">N</tspan><tspan class="g">S</tspan><tspan class="p">N</tspan><tspan class="g">S</tspan><tspan class="p">NNNN</tspan></text>
<text transform="translate(1656.3 0)" x="0 0 0 0 0 0 0 0 0 0 0 0 0 0 0 0 0 0 0 0 0 0 0 0 0 0 0 0 0 0 0 0 0 0 0 0 0" y="125.9 142.5 159.2 175.8 192.4 209 225.7 242.3 258.9 275.5 292.2 308.8 325.4 342 358.7 375.3 391.9 408.5 425.2 441.8 458.4 475 491.7 508.3 524.9 541.5 558.2 574.8 591.4 608 624.7 641.3 657.9 674.5 691.2 707.8 724.4"><tspan class="b">KKKKKKKKKKKKKKKKKKKKRRRRRRKRRRRRRRRRR</tspan></text>
<text transform="translate(1691.4 0)" x="0 0 0 0 0 0 0 0 0 0 0 0 0 0 0 0 0 0 0 0 0 0 0 0 0 0 0 0 0 0 0 0 0 0 0 0 0" y="125.9 142.5 159.2 175.8 192.4 209 225.7 242.3 258.9 275.5 292.2 308.8 325.4 342 358.7 375.3 391.9 408.5 425.2 441.8 458.4 475 491.7 508.3 524.9 541.5 558.2 574.8 591.4 608 624.7 641.3 657.9 674.5 691.2 707.8 724.4"><tspan class="k">IIIIIIIIIIIIIIIIIIIIIIIIIIIIIIIIIIII</tspan><tspan class="g">T</tspan></text>
<text transform="translate(1726.5 0)" x="0 0 0 0 0 0 0 0 0 0 0 0 0 0 0 0 0 0 0 0 0 0 0 0 0 0 0 0 0 0 0 0 0 0 0 0 0" y="125.9 142.5 159.2 175.8 192.4 209 225.7 242.3 258.9 275.5 292.2 308.8 325.4 342 358.7 375.3 391.9 408.5 425.2 441.8 458.4 475 491.7 508.3 524.9 541.5 558.2 574.8 591.4 608 624.7 641.3 657.9 674.5 691.2 707.8 724.4"><tspan class="g">TTTTTTTTTTTTT</tspan><tspan class="k">AAAAAAA</tspan><tspan class="g">TTTTTTTTTTTTTTTT</tspan><tspan class="k">A</tspan></text>
<text transform="translate(1761.7 0)" x="0 0 0 0 0 0 0 0 0 0 0 0 0 0 0 0 0 0 0 0 0 0 0 0 0 0 0 0 0 0 0 0 0 0 0 0 0" y="125.9 142.5 159.2 175.8 192.4 209 225.7 242.3 258.9 275.5 292.2 308.8 325.4 342 358.7 375.3 391.9 408.5 425.2 441.8 458.4 475 491.7 508.3 524.9 541.5 558.2 574.8 591.4 608 624.7 641.3 657.9 674.5 691.2 707.8 724.4"><tspan class="k">VVVVVVVVVVVVVVVVVVVVLLLLLLLLLLLLLLLLV</tspan></text>
<text transform="translate(1796.8 0)" x="0 0 0 0 0 0 0 0 0 0 0 0 0 0 0 0 0 0 0 0 0 0 0 0 0 0 0 0 0 0 0 0 0 0 0 0 0" y="125.9 142.5 159.2 175.8 192.4 209 225.7 242.3 258.9 275.5 292.2 308.8 325.4 342 358.7 375.3 391.9 408.5 425.2 441.8 458.4 475 491.7 508.3 524.9 541.5 558.2 574.8 591.4 608 624.7 641.3 657.9 674.5 691.2 707.8 724.4"><tspan class="k">VVVVVVVVVVVVVVVVVVVVVVVVVVVVVIVVVIIII</tspan></text>
<text transform="translate(1831.9 0)" x="0 0 0 0 0 0 0 0 0 0 0 0 0 0 0 0 0 0 0 0 0 0 0 0 0 0 0 0 0 0 0 0 0 0 0 0 0" y="125.9 142.5 159.2 175.8 192.4 209 225.7 242.3 258.9 275.5 292.2 308.8 325.4 342 358.7 375.3 391.9 408.5 425.2 441.8 458.4 475 491.7 508.3 524.9 541.5 558.2 574.8 591.4 608 624.7 641.3 657.9 674.5 691.2 707.8 724.4"><tspan class="k">IIIIIIIIIIIIIVVVVVVVIIIIIIIIIIIIIIIII</tspan></text>
<text transform="translate(1867.1 0)" x="0 0 0 0 0 0 0 0 0 0 0 0 0 0 0 0 0 0 0 0 0 0 0 0 0 0 0 0 0 0 0 0 0 0 0 0 0" y="125.9 142.5 159.2 175.8 192.4 209 225.7 242.3 258.9 275.5 292.2 308.8 325.4 342 358.7 375.3 391.9 408.5 425.2 441.8 458.4 475 491.7 508.3 524.9 541.5 558.2 574.8 591.4 608 624.7 641.3 657.9 674.5 691.2 707.8 724.4"><tspan class="b">HHHHHHHHHHHHHHHHHHHHHHHHH</tspan><tspan class="g">Y</tspan><tspan class="b">HHHHHH</tspan><tspan class="g">Y</tspan><tspan class="b">HHH</tspan><tspan class="g">Y</tspan></text>
<text transform="translate(1902.2 0)" x="0 0 0 0 0 0 0 0 0 0 0 0 0 0 0 0 0 0 0 0 0 0 0 0 0 0 0 0 0 0 0 0 0 0 0 0 0" y="125.9 142.5 159.2 175.8 192.4 209 225.7 242.3 258.9 275.5 292.2 308.8 325.4 342 358.7 375.3 391.9 408.5 425.2 441.8 458.4 475 491.7 508.3 524.9 541.5 558.2 574.8 591.4 608 624.7 641.3 657.9 674.5 691.2 707.8 724.4"><tspan class="k">IIIIIIIIIIIIIIIIIIII</tspan><tspan class="g">TTTTTTTTTTTTTTTT</tspan><tspan class="k">I</tspan></text>
<text transform="translate(1937.3 0)" x="0 0 0 0 0 0 0 0 0 0 0 0 0 0 0 0 0 0 0 0 0 0 0 0 0 0 0 0 0 0 0 0 0 0 0 0 0" y="125.9 142.5 159.2 175.8 192.4 209 225.7 242.3 258.9 275.5 292.2 308.8 325.4 342 358.7 375.3 391.9 408.5 425.2 441.8 458.4 475 491.7 508.3 524.9 541.5 558.2 574.8 591.4 608 624.7 641.3 657.9 674.5 691.2 707.8 724.4"><tspan class="k">LLLLLLLLLLLLLLLLLLLLLLLLLLLLLLLLLVVVV</tspan></text>
</g>

<g id="logo">
<path d="M840 736.5V766.5H1947M837 736.5H840M837 766.5H840" stroke="#444" stroke-width="1.2" fill="none"/>
<path d="M848.3 766.5v2.5M883.4 766.5v2.5M918.6 766.5v2.5M953.7 766.5v2.5M988.8 766.5v2.5M1024 766.5v2.5M1059.1 766.5v2.5M1094.2 766.5v2.5M1129.3 766.5v2.5M1164.5 766.5v2.5M1199.6 766.5v2.5M1234.7 766.5v2.5M1269.9 766.5v2.5M1305 766.5v2.5M1340.1 766.5v2.5M1375.3 766.5v2.5M1410.4 766.5v2.5M1445.5 766.5v2.5M1480.6 766.5v2.5M1515.8 766.5v2.5M1550.9 766.5v2.5M1586 766.5v2.5M1621.2 766.5v2.5M1656.3 766.5v2.5M1691.4 766.5v2.5M1726.5 766.5v2.5M1761.7 766.5v2.5M1796.8 766.5v2.5M1831.9 766.5v2.5M1867.1 766.5v2.5M1902.2 766.5v2.5M1937.3 766.5v2.5" stroke="#444" stroke-width="1" fill="none"/>
<text x="830" y="742" font-family="Liberation Serif,serif" font-size="13" fill="#333" text-anchor="middle">1</text>
<text x="830" y="771" font-family="Liberation Serif,serif" font-size="13" fill="#333" text-anchor="middle">0</text>
<text class="lm" transform="translate(848.3 766.5) scale(1 2.06)">I</text>
<text class="lg g" transform="translate(883.4 766.5) scale(0.85 2.1)">T</text>
<text class="lg k" transform="translate(918.6 766.5) scale(0.85 2.1)">V</text>
<text class="lm" transform="translate(953.7 766.5) scale(1 2.06)">I</text>
<text class="lg g" transform="translate(988.8 766.5) scale(0.85 2.1)">S</text>
<text class="lg r" transform="translate(1024 766.5) scale(0.85 2.1)">D</text>
<text class="lg g" transform="translate(1059.1 766.5) scale(0.85 0.52)">G</text>
<text class="lg k" transform="translate(1059.1 758) scale(0.85 1.45)">A</text>
<text class="lm" transform="translate(1094.2 766.5) scale(1 2.06)">I</text>
<text class="lg p" transform="translate(1129.3 766.5) scale(0.85 2.05)">Q</text>
<text class="lg g" transform="translate(1164.5 766.5) scale(0.85 0.66)">T</text>
<text class="lg k" transform="translate(1164.5 756) scale(0.85 1.38)">A</text>
<text class="lg k" transform="translate(1199.6 766.5) scale(0.85 2.1)">F</text>
<text class="lg p" transform="translate(1234.7 766.5) scale(0.85 0.26)">N</text>
<text class="lg g" transform="translate(1234.7 762) scale(0.85 1.8)">S</text>
<text class="lm" transform="translate(1269.9 766.5) scale(1 2.06)">I</text>
<text class="lg k" transform="translate(1305 766.5) scale(0.85 2.1)">V</text>
<text class="lg r" transform="translate(1340.1 766.5) scale(0.85 2.1)">D</text>
<text class="lg k" transform="translate(1375.3 766.5) scale(0.85 2.1)">V</text>
<text class="lg p" transform="translate(1410.4 766.5) scale(0.85 2.1)">N</text>
<text class="lg b" transform="translate(1515.8 766.5) scale(0.85 2.1)">K</text>
<text class="lg b" transform="translate(1550.9 766.5) scale(0.85 2.1)">R</text>
<text class="lg p" transform="translate(1586 766.5) scale(0.85 2.1)">N</text>
<text class="lg p" transform="translate(1621.2 766.5) scale(0.85 2.1)">N</text>
<text class="lg b" transform="translate(1656.3 766.5) scale(0.85 2.1)">R</text>
<text class="lg g" transform="translate(1691.4 766.5) scale(0.85 2.1)">T</text>
<text class="lg g" transform="translate(1726.5 766.5) scale(0.85 2.1)">T</text>
<text class="lm" transform="translate(1761.7 766.5) scale(1 0.5)">I</text>
<text class="lg k" transform="translate(1761.7 758) scale(0.85 1.5)">L</text>
<text class="lm" transform="translate(1796.8 766.5) scale(1 2.06)">I</text>
<text class="lm" transform="translate(1831.9 766.5) scale(1 2.06)">I</text>
<text class="lg g" transform="translate(1867.1 766.5) scale(0.85 2.1)">Y</text>
<text class="lg g" transform="translate(1902.2 766.5) scale(0.85 2.1)">T</text>
<text class="lg k" transform="translate(1937.3 766.5) scale(0.85 2.1)">V</text>
</g>
</g>
</svg>
